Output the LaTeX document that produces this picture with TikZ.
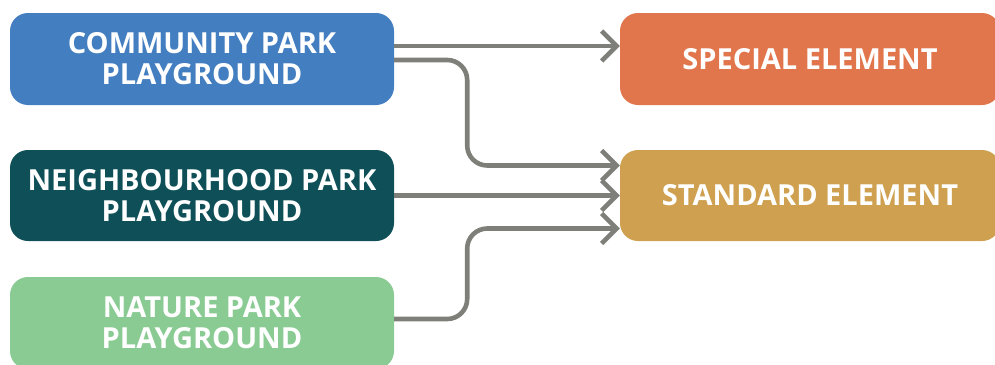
\documentclass[tikz,border=0pt]{standalone}
\usepackage{fontspec}
\setmainfont{Open Sans}
\usetikzlibrary{arrows.meta}
\definecolor{commblue}{RGB}{67,126,193}
\definecolor{nbhteal}{RGB}{15,80,88}
\definecolor{natgreen}{RGB}{138,203,148}
\definecolor{specorange}{RGB}{225,118,77}
\definecolor{stdgold}{RGB}{206,160,79}
\definecolor{linkgrey}{RGB}{127,127,122}
\tikzset{pgbox/.style = {rounded corners = 18pt, text = white, inner sep = 0, align = center,
                         font = \bfseries\fontsize{29}{31}\selectfont,
                         minimum width = 384pt, minimum height = 92pt}}
\tikzset{elbox/.style = {pgbox, minimum width = 380pt}}
\tikzset{link/.style = {draw = linkgrey, line width = 4.6pt, rounded corners = 20pt,
                        -{Straight Barb[length = 15pt, width = 30pt]}}}

\begin{document}
\begin{tikzpicture}[x = 1pt, y = -1pt]
    \useasboundingbox (0, 0) rectangle (995, 364);

    \node [pgbox, fill = commblue] (comm) at (202, 59) {COMMUNITY PARK\\PLAYGROUND};
    \node [pgbox, fill = nbhteal, minimum height = 91pt] (nbh) at (202, 195.5) {NEIGHBOURHOOD PARK\\PLAYGROUND};
    \node [pgbox, fill = natgreen] (nat) at (202, 323) {NATURE PARK\\PLAYGROUND};
    \node [elbox, fill = specorange] (spec) at (810, 59) {SPECIAL ELEMENT};
    \node [elbox, fill = stdgold, minimum height = 91pt] (std) at (810, 195.5) {STANDARD ELEMENT};

    \draw [link] ([yshift = 13pt] comm.east) -- ([yshift = 13pt] spec.west);
    \draw [link] ([yshift = -1pt] comm.east) -- ++(73, 0) |- ([yshift = 30pt] std.west);
    \draw [link] (nbh.east) -- (std.west);
    \draw [link] ([yshift = 4pt] nat.east) -- ++(73, 0) |- ([yshift = -33pt] std.west);
  \end{tikzpicture}
\end{document}
